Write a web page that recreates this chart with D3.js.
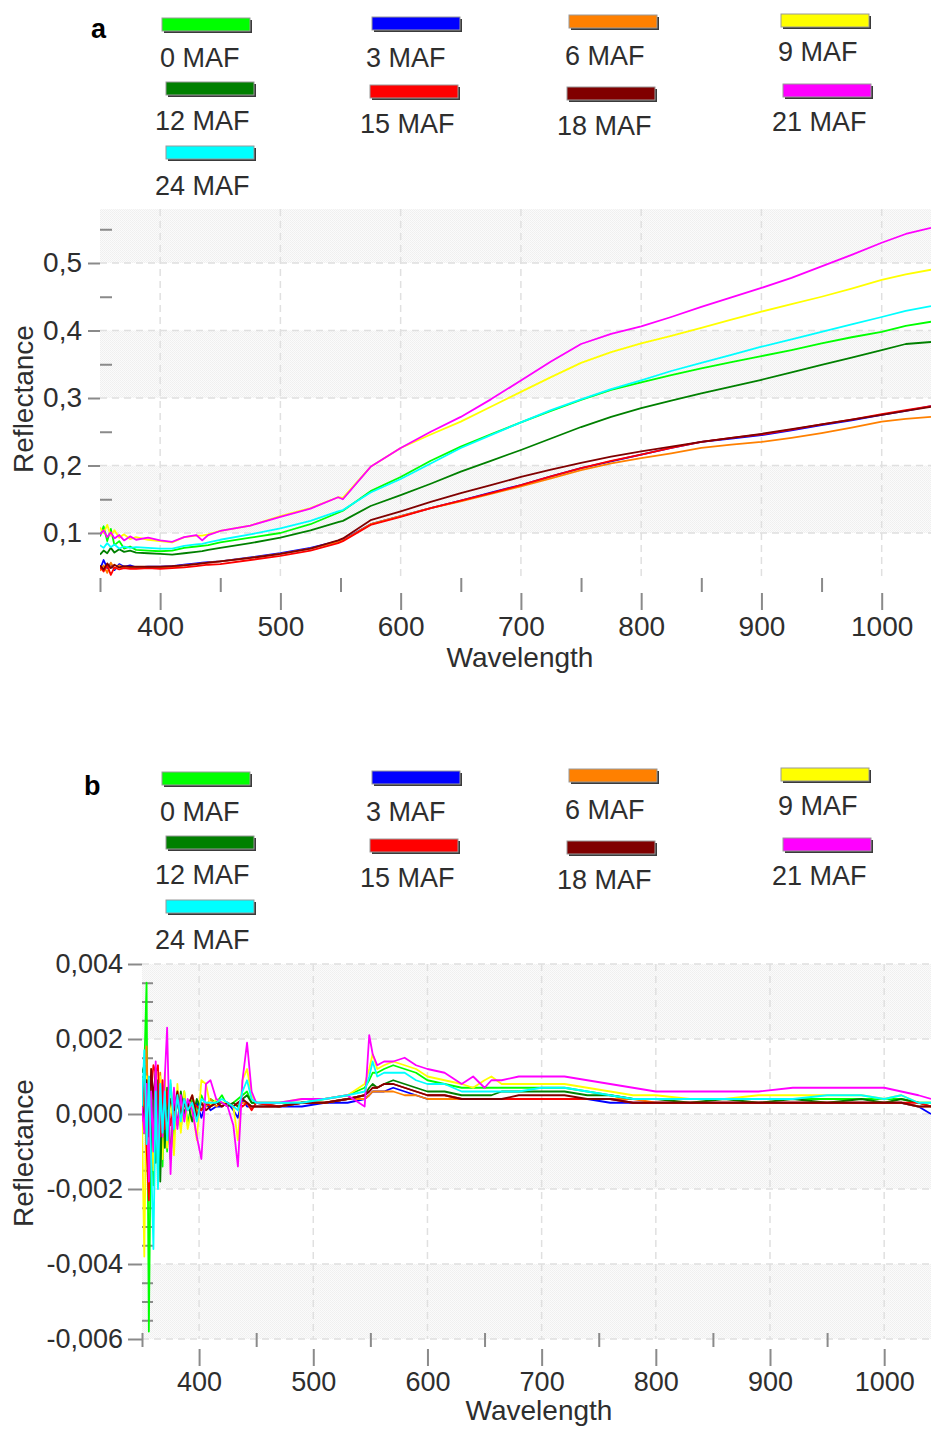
<!DOCTYPE html>
<html><head><meta charset="utf-8">
<script src="https://cdn.jsdelivr.net/npm/d3@7"></script>
<style>
body{margin:0;background:#fff;}
svg{display:block;}
</style></head><body>
<svg id="chart" width="931" height="1430"></svg>
<script>
// ---------- DATA ----------
const seriesNames = ["0 MAF","3 MAF","6 MAF","9 MAF","12 MAF","15 MAF","18 MAF","21 MAF","24 MAF"];

// Panel a: reflectance vs wavelength (nm)
const waveA = [350,353,356,359,362,366,370,375,380,390,400,410,420,430,435,440,450,475,500,525,548,552,575,600,625,650,675,700,725,750,775,800,825,850,875,900,925,950,975,1000,1020,1041];
const reflA_0MAF  = [0.095,0.110,0.088,0.106,0.082,0.088,0.077,0.080,0.075,0.074,0.073,0.074,0.078,0.080,0.081,0.082,0.086,0.093,0.100,0.113,0.130,0.133,0.162,0.183,0.207,0.228,0.246,0.264,0.281,0.297,0.312,0.323,0.334,0.344,0.353,0.362,0.371,0.381,0.390,0.398,0.407,0.413];
const reflA_3MAF  = [0.046,0.060,0.048,0.055,0.045,0.054,0.050,0.052,0.049,0.050,0.050,0.051,0.053,0.055,0.056,0.057,0.058,0.064,0.070,0.078,0.088,0.090,0.113,0.125,0.137,0.148,0.160,0.171,0.184,0.196,0.206,0.216,0.226,0.235,0.240,0.245,0.252,0.260,0.267,0.275,0.281,0.288];
const reflA_6MAF  = [0.044,0.052,0.041,0.056,0.047,0.052,0.048,0.050,0.048,0.049,0.049,0.050,0.052,0.054,0.055,0.056,0.058,0.063,0.069,0.077,0.087,0.089,0.113,0.125,0.137,0.147,0.158,0.169,0.181,0.193,0.203,0.211,0.218,0.226,0.231,0.235,0.241,0.248,0.256,0.265,0.269,0.272];
const reflA_9MAF  = [0.108,0.100,0.112,0.096,0.104,0.093,0.098,0.091,0.094,0.090,0.088,0.086,0.094,0.096,0.096,0.098,0.103,0.111,0.125,0.137,0.153,0.152,0.198,0.226,0.246,0.265,0.287,0.309,0.331,0.352,0.368,0.381,0.392,0.404,0.416,0.428,0.439,0.450,0.462,0.475,0.483,0.490];
const reflA_12MAF = [0.068,0.074,0.070,0.078,0.071,0.076,0.072,0.074,0.071,0.070,0.069,0.068,0.070,0.072,0.073,0.075,0.078,0.085,0.093,0.104,0.116,0.118,0.140,0.156,0.173,0.191,0.207,0.223,0.240,0.257,0.272,0.285,0.296,0.307,0.317,0.327,0.338,0.349,0.360,0.371,0.380,0.383];
const reflA_15MAF = [0.050,0.043,0.052,0.038,0.049,0.046,0.048,0.047,0.047,0.048,0.047,0.048,0.049,0.051,0.052,0.053,0.054,0.060,0.066,0.074,0.085,0.088,0.112,0.124,0.137,0.148,0.159,0.171,0.184,0.196,0.207,0.216,0.226,0.235,0.241,0.246,0.253,0.261,0.268,0.276,0.282,0.288];
const reflA_18MAF = [0.052,0.046,0.055,0.048,0.053,0.049,0.051,0.050,0.050,0.050,0.050,0.051,0.052,0.054,0.055,0.056,0.058,0.063,0.069,0.077,0.089,0.092,0.119,0.132,0.146,0.159,0.171,0.183,0.194,0.204,0.213,0.221,0.228,0.235,0.241,0.247,0.254,0.261,0.268,0.275,0.281,0.287];
const reflA_21MAF = [0.098,0.104,0.094,0.101,0.092,0.097,0.089,0.095,0.090,0.093,0.089,0.087,0.094,0.097,0.089,0.097,0.103,0.111,0.124,0.136,0.153,0.150,0.198,0.226,0.250,0.272,0.298,0.326,0.354,0.380,0.395,0.406,0.420,0.435,0.449,0.463,0.478,0.495,0.512,0.530,0.543,0.552];
const reflA_24MAF = [0.082,0.078,0.085,0.079,0.083,0.077,0.080,0.078,0.079,0.078,0.077,0.077,0.081,0.083,0.084,0.086,0.090,0.098,0.107,0.118,0.132,0.134,0.160,0.180,0.203,0.226,0.245,0.264,0.282,0.298,0.313,0.326,0.340,0.352,0.364,0.376,0.387,0.398,0.409,0.420,0.429,0.436];

// Panel b: first derivative of reflectance vs wavelength (nm)
const waveB = [350,352,354,356,358,360,362,364,366,368,370,372,375,378,381,384,387,390,394,398,402,406,410,415,420,425,430,434,438,442,446,450,470,490,510,530,545,549,552,556,562,570,580,590,600,615,630,640,650,656,665,680,700,720,740,760,780,800,830,860,890,920,950,980,1000,1015,1030,1041];
const derB_0MAF  = [0.0005,0.0012,0.0035,-0.0058,0.0003,-0.0019,0.0011,-0.0008,0.0006,-0.0014,0.0009,-0.0010,0.0007,-0.0006,0.0005,-0.0004,0.0006,-0.0003,0.0004,0.0001,0.0005,0.0002,0.0004,0.0003,0.0005,0.0002,0.0003,0.0004,0.0005,0.0006,0.0003,0.0003,
  0.0003,0.0003,0.0004,0.0005,0.0007,0.0009,0.0011,0.0011,0.0012,0.0013,0.0012,0.0011,0.0009,0.0008,0.0007,0.0007,0.0007,0.0007,0.0007,0.0007,0.0007,0.0007,0.0006,0.0005,0.0004,0.0004,0.0004,0.0004,0.0004,0.0004,0.0004,0.0004,0.0004,0.0004,0.0003,0.0003];
const derB_3MAF  = [-0.0003,0.0004,-0.0006,0.0002,-0.0012,0.0005,-0.0008,0.0008,-0.0011,0.0006,0.0008,-0.0004,0.0006,-0.0002,0.0003,0.0001,0.0002,0.0003,0.0001,0.0003,-0.0001,0.0003,0.0001,0.0002,0.0002,0.0003,0.0001,-0.0001,0.0004,0.0002,0.0002,0.0002,
  0.0002,0.0002,0.0003,0.0003,0.0004,0.0005,0.0006,0.0006,0.0006,0.0007,0.0006,0.0005,0.0004,0.0004,0.0004,0.0004,0.0004,0.0004,0.0004,0.0004,0.0004,0.0004,0.0004,0.0003,0.0003,0.0003,0.0003,0.0003,0.0003,0.0003,0.0003,0.0003,0.0003,0.0003,0.0002,0.0000];
const derB_6MAF  = [-0.0005,0.0006,0.0018,-0.0010,0.0004,-0.0014,0.0010,-0.0006,0.0011,-0.0008,0.0007,-0.0005,0.0008,-0.0003,0.0006,0.0001,0.0004,0.0002,0.0005,0.0000,0.0003,0.0002,0.0004,0.0002,0.0003,0.0002,0.0003,0.0002,0.0003,0.0003,0.0002,0.0002,
  0.0002,0.0003,0.0003,0.0004,0.0004,0.0005,0.0006,0.0006,0.0006,0.0006,0.0005,0.0005,0.0004,0.0004,0.0004,0.0004,0.0004,0.0004,0.0004,0.0004,0.0004,0.0004,0.0004,0.0004,0.0004,0.0003,0.0003,0.0003,0.0003,0.0003,0.0003,0.0003,0.0003,0.0003,0.0002,0.0002];
const derB_9MAF  = [-0.0002,-0.0038,0.0010,-0.0022,0.0012,-0.0015,0.0009,-0.0017,0.0010,-0.0012,0.0011,-0.0009,0.0006,-0.0011,0.0008,-0.0005,0.0006,-0.0004,0.0002,-0.0007,0.0009,0.0008,0.0002,0.0004,0.0003,0.0003,0.0002,-0.0007,0.0009,0.0012,0.0005,0.0003,
  0.0003,0.0004,0.0004,0.0005,0.0008,0.0012,0.0016,0.0012,0.0013,0.0014,0.0013,0.0012,0.0010,0.0009,0.0008,0.0007,0.0009,0.0010,0.0008,0.0008,0.0008,0.0008,0.0007,0.0006,0.0005,0.0005,0.0004,0.0004,0.0005,0.0005,0.0005,0.0005,0.0004,0.0005,0.0003,0.0003];
const derB_12MAF = [0.0011,0.0013,-0.0004,0.0008,-0.0010,0.0006,-0.0013,0.0009,-0.0018,0.0005,-0.0009,0.0007,-0.0012,0.0004,-0.0003,0.0006,0.0000,0.0003,-0.0002,0.0004,0.0001,0.0003,0.0002,0.0003,0.0003,0.0002,0.0003,0.0002,0.0004,0.0005,0.0003,0.0003,
  0.0002,0.0003,0.0003,0.0004,0.0005,0.0007,0.0008,0.0007,0.0008,0.0009,0.0008,0.0007,0.0006,0.0006,0.0005,0.0005,0.0005,0.0005,0.0006,0.0006,0.0006,0.0006,0.0005,0.0005,0.0004,0.0004,0.0003,0.0004,0.0003,0.0004,0.0003,0.0004,0.0003,0.0004,0.0003,0.0002];
const derB_15MAF = [0.0002,0.0010,-0.0009,-0.0023,0.0006,0.0013,0.0011,0.0013,-0.0006,0.0009,-0.0004,0.0006,-0.0003,0.0002,0.0005,0.0000,0.0004,0.0001,0.0003,0.0002,0.0001,0.0003,0.0002,0.0003,0.0002,0.0003,0.0002,0.0003,0.0002,0.0003,0.0001,0.0003,
  0.0002,0.0003,0.0003,0.0004,0.0005,0.0006,0.0007,0.0007,0.0008,0.0008,0.0007,0.0006,0.0005,0.0005,0.0004,0.0004,0.0004,0.0004,0.0004,0.0004,0.0004,0.0004,0.0004,0.0004,0.0003,0.0003,0.0003,0.0003,0.0003,0.0003,0.0003,0.0003,0.0003,0.0003,0.0003,0.0002];
const derB_18MAF = [0.0003,-0.0002,0.0009,-0.0006,0.0012,0.0004,0.0012,-0.0007,0.0005,-0.0004,0.0003,-0.0002,0.0004,0.0001,0.0006,-0.0001,0.0003,0.0002,0.0005,-0.0001,0.0003,0.0001,0.0002,0.0003,0.0002,0.0003,0.0002,0.0003,0.0004,0.0003,0.0002,0.0002,
  0.0002,0.0003,0.0003,0.0004,0.0005,0.0006,0.0007,0.0007,0.0008,0.0008,0.0007,0.0006,0.0005,0.0005,0.0004,0.0004,0.0004,0.0004,0.0004,0.0005,0.0005,0.0005,0.0004,0.0004,0.0003,0.0003,0.0003,0.0003,0.0003,0.0003,0.0003,0.0003,0.0003,0.0003,0.0002,0.0002];
const derB_21MAF = [0.0002,-0.0005,0.0008,-0.0018,0.0006,-0.0010,0.0014,-0.0012,0.0008,-0.0006,0.0010,0.0023,-0.0016,0.0007,-0.0004,0.0005,-0.0002,0.0004,0.0001,-0.0006,-0.0012,0.0008,0.0009,0.0004,0.0003,0.0002,-0.0003,-0.0014,0.0009,0.0019,0.0006,0.0003,
  0.0003,0.0004,0.0004,0.0005,0.0002,0.0021,0.0016,0.0013,0.0014,0.0014,0.0015,0.0013,0.0012,0.0011,0.0008,0.0010,0.0007,0.0009,0.0009,0.0010,0.0010,0.0010,0.0009,0.0008,0.0007,0.0006,0.0006,0.0006,0.0006,0.0007,0.0007,0.0007,0.0007,0.0006,0.0005,0.0004];
const derB_24MAF = [0.0002,0.0017,-0.0008,0.0010,-0.0012,-0.0036,0.0006,-0.0020,0.0008,-0.0005,0.0006,-0.0007,0.0009,-0.0004,0.0005,-0.0002,0.0004,0.0001,0.0003,-0.0002,0.0004,0.0003,0.0003,0.0003,0.0004,0.0003,0.0002,0.0001,0.0006,0.0009,0.0004,0.0003,
  0.0003,0.0003,0.0004,0.0005,0.0006,0.0010,0.0014,0.0010,0.0011,0.0011,0.0011,0.0009,0.0008,0.0008,0.0006,0.0006,0.0006,0.0006,0.0006,0.0006,0.0007,0.0007,0.0006,0.0005,0.0004,0.0004,0.0004,0.0004,0.0004,0.0004,0.0005,0.0005,0.0004,0.0005,0.0003,0.0003];

// Tick values
const xMajorTicks = [400,500,600,700,800,900,1000];
const xMinorTicks = [350,450,550,650,750,850,950,1050];
const yMajorTicksA = [0.1,0.2,0.3,0.4,0.5];
const yMinorTicksA = [0.15,0.25,0.35,0.45,0.55];
const yMajorTicksB = [-0.006,-0.004,-0.002,0,0.002,0.004];
const yMinorTicksB = [-0.0055,-0.005,-0.0045,-0.0035,-0.003,-0.0025,-0.0015,-0.001,-0.0005,0.0005,0.001,0.0015,0.0025,0.003,0.0035];

// ---------- STYLE / LAYOUT ----------
const seriesColors = ["#00ff00","#0000ff","#ff8000","#ffff00","#008000","#ff0000","#800000","#ff00ff","#00ffff"];
const legendLayout = [
  {sx:162, sy:18, lx:160, ly:67},
  {sx:372, sy:17, lx:366, ly:67},
  {sx:569, sy:15, lx:565, ly:65},
  {sx:781, sy:14, lx:778, ly:61},
  {sx:166, sy:82, lx:155, ly:130},
  {sx:370, sy:85, lx:360, ly:133},
  {sx:567, sy:87, lx:557, ly:135},
  {sx:783, sy:84, lx:772, ly:131},
  {sx:166, sy:146, lx:155, ly:195}
];
const FONT = "'Liberation Sans', Arial, Helvetica, sans-serif";
const TXT = "#2e2e2e";
const loc = d3.formatLocale({decimal:",", thousands:".", grouping:[3], currency:["",""], minus:"-"});

const svg = d3.select("#chart");
const defs = svg.append("defs");
const pat = defs.append("pattern").attr("id","dots").attr("width",2).attr("height",2).attr("patternUnits","userSpaceOnUse");
pat.append("rect").attr("width",2).attr("height",2).attr("fill","#fbfbfb");
pat.append("rect").attr("x",0).attr("y",0).attr("width",1).attr("height",1).attr("fill","#efefef");
pat.append("rect").attr("x",1).attr("y",1).attr("width",1).attr("height",1).attr("fill","#f1f1f1");

function drawPanel(o){
  const g = svg.append("g");
  const x = d3.scaleLinear().domain(o.xDomain).range([o.left, o.right]);
  const y = d3.scaleLinear().domain(o.yDomain).range([o.bottom, o.top]);

  // bands
  const edges = o.bandEdges;
  for (let i = 0; i < edges.length - 1; i++) {
    if (i % 2 === 0) {
      g.append("rect").attr("x", o.left).attr("width", o.right - o.left)
        .attr("y", y(edges[i+1])).attr("height", y(edges[i]) - y(edges[i+1]))
        .attr("fill","url(#dots)");
    }
  }
  // grid
  g.append("g").selectAll("line").data(xMajorTicks).join("line")
    .attr("x1", d=>x(d)).attr("x2", d=>x(d)).attr("y1", o.top).attr("y2", o.gridBottom)
    .attr("stroke","#e0e0e0").attr("stroke-width",1.5).attr("stroke-dasharray","7,5");
  g.append("g").selectAll("line").data(o.yMajor).join("line")
    .attr("x1", o.left).attr("x2", o.right).attr("y1", d=>y(d)).attr("y2", d=>y(d))
    .attr("stroke","#e0e0e0").attr("stroke-width",1.5).attr("stroke-dasharray","7,5");

  // axes
  const styleAxis = sel => {
    sel.select(".domain").remove();
    sel.attr("font-family", FONT).attr("font-size", o.tickFont);
    sel.selectAll("line").attr("stroke","#8a8a8a").attr("stroke-width",2);
    sel.selectAll("text").attr("fill", TXT);
  };
  g.append("g").attr("transform",`translate(0,${o.xMinorY})`)
    .call(d3.axisBottom(x).tickValues(xMinorTicks.filter(d=>d>=o.xDomain[0]&&d<=o.xDomain[1])).tickSize(14).tickFormat(""))
    .call(styleAxis);
  g.append("g").attr("transform",`translate(0,${o.xMajorY})`)
    .call(d3.axisBottom(x).tickValues(xMajorTicks).tickSize(17).tickPadding(6).tickFormat(d3.format("d")))
    .call(styleAxis);
  g.append("g").attr("transform",`translate(${o.left},0)`)
    .call(d3.axisLeft(y).tickValues(o.yMajor).tickSize(o.yMajorLen).tickPadding(o.yPad).tickFormat(loc.format(o.yFmt)))
    .call(styleAxis);
  g.append("g").attr("transform",`translate(${o.left},0)`)
    .call(d3.axisRight(y).tickValues(o.yMinor).tickSize(o.yMinorLen).tickFormat(""))
    .call(styleAxis);

  // titles
  g.append("text").attr("x", o.xTitleX).attr("y", o.xTitleY).attr("text-anchor","middle")
    .attr("font-family",FONT).attr("font-size",28).attr("fill",TXT).text("Wavelength");
  g.append("text").attr("transform",`translate(33,${o.yTitleY}) rotate(-90)`).attr("text-anchor","middle")
    .attr("font-family",FONT).attr("font-size",28).attr("fill",TXT).text("Reflectance");

  // lines
  const cid = "clip" + o.id;
  defs.append("clipPath").attr("id", cid).append("rect")
    .attr("x", o.left).attr("y", o.top - 30).attr("width", o.right - o.left).attr("height", o.bottom - o.top + 30);
  const line = d3.line().x(d=>x(d[0])).y(d=>y(d[1]));
  const lg = g.append("g").attr("clip-path", `url(#${cid})`);
  o.series.forEach((vals, i) => {
    lg.append("path").datum(o.waves.map((w, j) => [w, vals[j]]))
      .attr("d", line).attr("fill","none").attr("stroke", seriesColors[i])
      .attr("stroke-width", 1.8).attr("stroke-linejoin","round");
  });

  // legend
  const leg = g.append("g").attr("transform", `translate(0,${o.legendDy})`);
  seriesNames.forEach((name, i) => {
    const L = legendLayout[i];
    leg.append("rect").attr("x", L.sx + 2).attr("y", L.sy + 2).attr("width", 88).attr("height", 13).attr("fill", "#3a3a3a");
    leg.append("rect").attr("x", L.sx).attr("y", L.sy).attr("width", 88).attr("height", 13)
      .attr("fill", seriesColors[i]).attr("stroke", "#9a9a9a").attr("stroke-width", 1);
    leg.append("text").attr("x", L.lx).attr("y", L.ly).attr("font-family", FONT).attr("font-size", 27)
      .attr("fill", TXT).text(name);
  });
  g.append("text").attr("x", o.letterX).attr("y", o.letterY).attr("font-family","Arial, 'Liberation Sans', sans-serif")
    .attr("font-size", 27).attr("font-weight","bold").attr("fill","#000").text(o.letter);
}

drawPanel({
  id:"A", letter:"a", letterX:91, letterY:38, legendDy:0,
  left:100, right:931, top:209, bottom:592, gridBottom:578,
  xDomain:[350,1041], yDomain:[0.0126,0.58],
  bandEdges:[0.1,0.2,0.3,0.4,0.5,0.58],
  yMajor:yMajorTicksA, yMinor:yMinorTicksA, yFmt:".1f",
  yMajorLen:12, yMinorLen:12, yPad:6, tickFont:28,
  xMinorY:578, xMajorY:593,
  xTitleX:520, xTitleY:667, yTitleY:399,
  waves:waveA,
  series:[reflA_0MAF,reflA_3MAF,reflA_6MAF,reflA_9MAF,reflA_12MAF,reflA_15MAF,reflA_18MAF,reflA_21MAF,reflA_24MAF]
});

drawPanel({
  id:"B", letter:"b", letterX:84, letterY:795, legendDy:754,
  left:142, right:931, top:964, bottom:1339, gridBottom:1339,
  xDomain:[350,1041], yDomain:[-0.006,0.004],
  bandEdges:[-0.006,-0.004,-0.002,0,0.002,0.004],
  yMajor:yMajorTicksB, yMinor:yMinorTicksB, yFmt:".3f",
  yMajorLen:14, yMinorLen:11, yPad:5, tickFont:27,
  xMinorY:1333, xMajorY:1349,
  xTitleX:539, xTitleY:1420, yTitleY:1153,
  waves:waveB,
  series:[derB_0MAF,derB_3MAF,derB_6MAF,derB_9MAF,derB_12MAF,derB_15MAF,derB_18MAF,derB_21MAF,derB_24MAF]
});
</script>
</body></html>
